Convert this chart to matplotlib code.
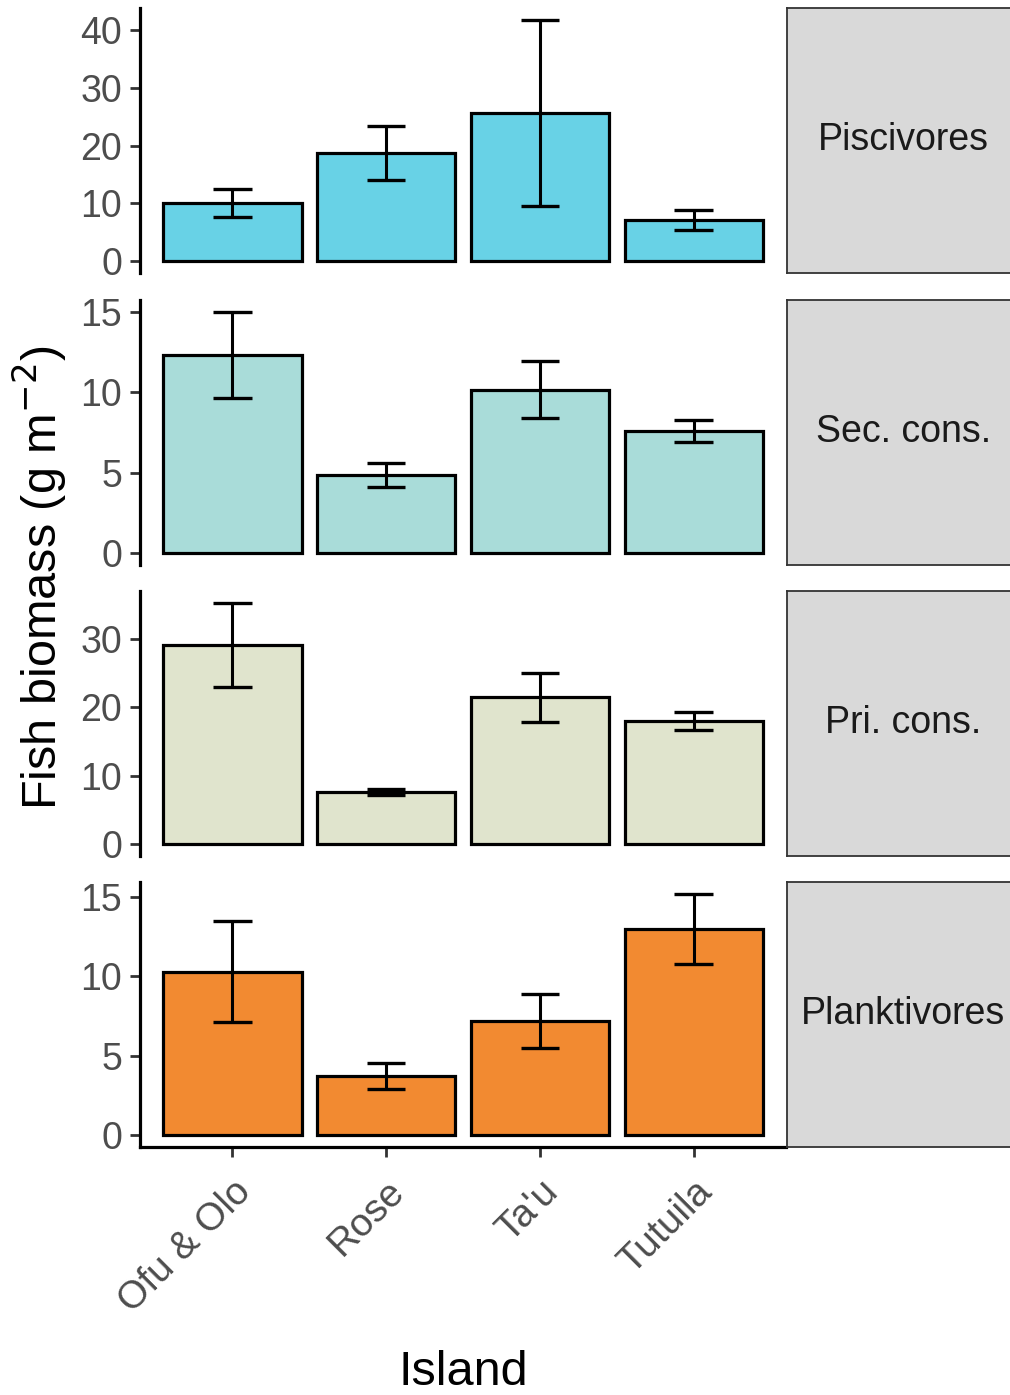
import matplotlib
matplotlib.use("Agg")
import matplotlib.pyplot as plt
import numpy as np

islands = ["Ofu & Olo", "Rose", "Ta'u", "Tutuila"]
groups = ["Piscivores", "Sec. cons.", "Pri. cons.", "Planktivores"]

pisc_mean = [10.1, 18.7, 25.7, 7.1]
pisc_se = [2.4, 4.7, 16.1, 1.7]
sec_mean = [12.3, 4.85, 10.15, 7.57]
sec_se = [2.68, 0.75, 1.78, 0.67]
pri_mean = [29.15, 7.6, 21.5, 18.0]
pri_se = [6.15, 0.5, 3.6, 1.3]
plank_mean = [10.3, 3.72, 7.2, 13.0]
plank_se = [3.17, 0.79, 1.7, 2.2]

yticks_list = [[0, 10, 20, 30, 40], [0, 5, 10, 15], [0, 10, 20, 30], [0, 5, 10, 15]]

means = [pisc_mean, sec_mean, pri_mean, plank_mean]
ses = [pisc_se, sec_se, pri_se, plank_se]
colors = ["#68D2E6", "#A9DCD9", "#E0E4CD", "#F28A31"]

W, H = 1010, 1395
fig = plt.figure(figsize=(W / 100, H / 100), dpi=100)

fam = ["Liberation Sans", "DejaVu Sans"]

left, right = 140, 786
tops = [8, 300, 591, 882]
ph = 265
x = np.arange(1, len(islands) + 1)

for i in range(4):
    top = tops[i]
    ax = fig.add_axes([left / W, 1 - (top + ph) / H, (right - left) / W, ph / H])
    m = np.array(means[i]); s = np.array(ses[i])
    ax.bar(x, m, width=0.9, color=colors[i], edgecolor="black", linewidth=2.3, zorder=2)
    ax.vlines(x, m - s, m + s, color="black", linewidth=2.2, zorder=3)
    ax.hlines(m + s, x - 0.125, x + 0.125, color="black", linewidth=2.4, zorder=3)
    ax.hlines(m - s, x - 0.125, x + 0.125, color="black", linewidth=2.4, zorder=3)
    ymax = (m + s).max()
    ax.set_ylim(-0.05 * ymax, 1.05 * ymax)
    ax.set_xlim(0.4, 4.6)
    ax.set_yticks(yticks_list[i])
    ax.set_yticklabels([str(t) for t in yticks_list[i]], fontsize=27, color="#4D4D4D", family=fam)
    for sp in ["top", "right"]:
        ax.spines[sp].set_visible(False)
    ax.spines["left"].set_linewidth(2.3)
    ax.tick_params(axis="y", length=7, width=2, color="#333333", pad=6)
    if i < 3:
        ax.spines["bottom"].set_visible(False)
        ax.set_xticks([])
    else:
        ax.spines["bottom"].set_linewidth(2.3)
        ax.set_xticks(x)
        ax.set_xticklabels(islands, rotation=45, ha="right", va="top", rotation_mode="anchor",
                           fontsize=28, color="#4D4D4D", family=fam)
        ax.tick_params(axis="x", length=7, width=2, color="#333333", pad=12)
        ax.set_xlabel("Island", fontsize=35, family=fam, labelpad=22)

    # facet strip on the right
    sx = fig.add_axes([787 / W, 1 - (top + ph) / H, 233 / W, ph / H])
    sx.set_facecolor("#D9D9D9")
    sx.set_xticks([]); sx.set_yticks([])
    for sp in sx.spines.values():
        sp.set_color("#333333"); sp.set_linewidth(1.3)
    sx.text(0.5, 0.5, groups[i], ha="center", va="center", fontsize=27,
            color="#1A1A1A", family=fam, transform=sx.transAxes)

fig.text(40 / W, 1 - 578 / H, "Fish biomass (g m$^{-2}$)", rotation=90, ha="center", va="center",
         fontsize=35, family=fam)

fig.savefig("out.png", dpi=100)
